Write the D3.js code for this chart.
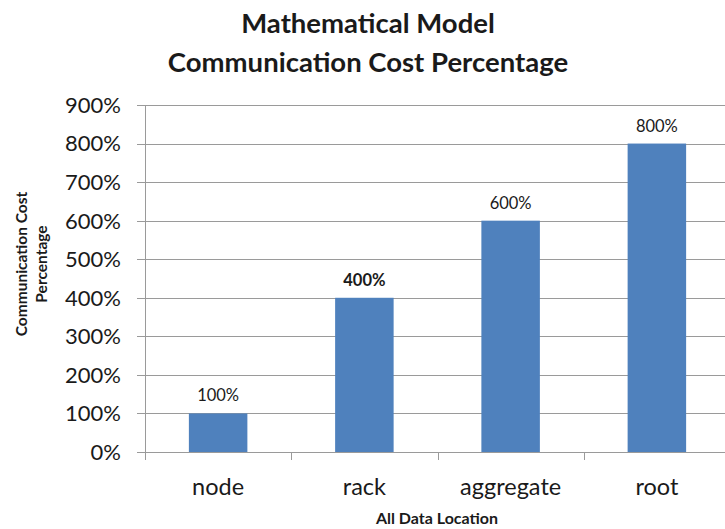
<!DOCTYPE html>
<html>
<head>
<meta charset="utf-8">
<script src="https://cdn.jsdelivr.net/npm/d3@7"></script>
<style>
  body { margin: 0; background: #fff; }
  text { font-family: Lato, "Open Sans", sans-serif; fill: #1a1a1a; }
</style>
</head>
<body>
<div id="chart"></div>
<script>
// chart data
var categories = ["node", "rack", "aggregate", "root"];
var values = [100, 400, 600, 800];
var yTicks = [0, 100, 200, 300, 400, 500, 600, 700, 800, 900];
var titleLines = ["Mathematical Model", "Communication Cost Percentage"];
var yTitleLines = ["Communication Cost", "Percentage"];
var xTitle = "All Data Location";

var W = 725, H = 529;
var margin = {top: 105, left: 145, bottom: 77, right: -5};
var w = W - margin.left - margin.right,
    h = H - margin.top - margin.bottom;

var svg = d3.select("#chart").append("svg")
    .attr("width", W)
    .attr("height", H);

var g = svg.append("g")
    .attr("transform", "translate(" + margin.left + "," + margin.top + ")");

// scales
var x = d3.scaleBand().domain(categories).range([0, w]).paddingInner(0.6).paddingOuter(0.3);
var xTick = d3.scaleBand().domain(categories).range([0, w]);
var y = d3.scaleLinear().domain([0, 900]).range([h, 0]);

// gridlines
g.selectAll(".grid")
   .data(yTicks)
   .enter().append("line")
   .attr("x1", -8)
   .attr("x2", w)
   .attr("y1", function(d) { return Math.round(y(d)) + 0.5; })
   .attr("y2", function(d) { return Math.round(y(d)) + 0.5; })
   .style("stroke", "#9a9a9a")
   .style("stroke-width", 1);

// y axis line
g.append("line")
   .attr("x1", 0.5).attr("x2", 0.5)
   .attr("y1", 0).attr("y2", h)
   .style("stroke", "#9a9a9a");

// y tick labels
g.selectAll(".ylab")
   .data(yTicks)
   .enter().append("text")
   .attr("x", -24)
   .attr("y", function(d) { return y(d); })
   .attr("dy", "0.36em")
   .attr("text-anchor", "end")
   .style("font-size", "22px")
   .text(function(d) { return d + "%"; });

// category ticks below axis
g.selectAll(".xtick")
   .data(categories.concat(["end"]))
   .enter().append("line")
   .attr("x1", function(d, i) { return Math.round(i * xTick.bandwidth()) + 0.5; })
   .attr("x2", function(d, i) { return Math.round(i * xTick.bandwidth()) + 0.5; })
   .attr("y1", h)
   .attr("y2", h + 8)
   .style("stroke", "#9a9a9a");

// bars
g.selectAll(".bar")
   .data(values)
   .enter().append("rect")
   .attr("x", function(d, i) { return x(categories[i]); })
   .attr("width", x.bandwidth())
   .attr("y", function(d) { return y(d); })
   .attr("height", function(d) { return h - y(d); })
   .style("fill", "#4f81bd");

// value labels
g.selectAll(".vlab")
   .data(values)
   .enter().append("text")
   .attr("x", function(d, i) { return x(categories[i]) + x.bandwidth() / 2; })
   .attr("y", function(d) { return y(d) - 12; })
   .attr("text-anchor", "middle")
   .style("font-size", "16.5px")
   .style("font-weight", function(d) { return d === 400 ? "bold" : "normal"; })
   .text(function(d) { return d + "%"; });

// category labels
g.selectAll(".xlab")
   .data(categories)
   .enter().append("text")
   .attr("x", function(d) { return xTick(d) + xTick.bandwidth() / 2; })
   .attr("y", h + 43)
   .attr("text-anchor", "middle")
   .style("font-size", "23.5px")
   .text(function(d) { return d; });

// chart title
svg.append("text")
   .attr("x", 368)
   .attr("y", 33)
   .attr("text-anchor", "middle")
   .style("font-size", "27.5px")
   .style("font-weight", "bold")
   .selectAll("tspan")
   .data(titleLines)
   .enter().append("tspan")
   .attr("x", 368)
   .attr("dy", function(d, i) { return i ? 39 : 0; })
   .text(function(d) { return d; });

// x axis title
svg.append("text")
   .attr("x", 437)
   .attr("y", 524)
   .attr("text-anchor", "middle")
   .style("font-size", "16px")
   .style("font-weight", "bold")
   .text(xTitle);

// y axis title
svg.append("text")
   .attr("transform", "translate(27,264) rotate(-90)")
   .attr("text-anchor", "middle")
   .style("font-size", "15.5px")
   .style("font-weight", "bold")
   .selectAll("tspan")
   .data(yTitleLines)
   .enter().append("tspan")
   .attr("x", 0)
   .attr("dy", function(d, i) { return i ? 20 : 0; })
   .text(function(d) { return d; });
</script>
</body>
</html>
